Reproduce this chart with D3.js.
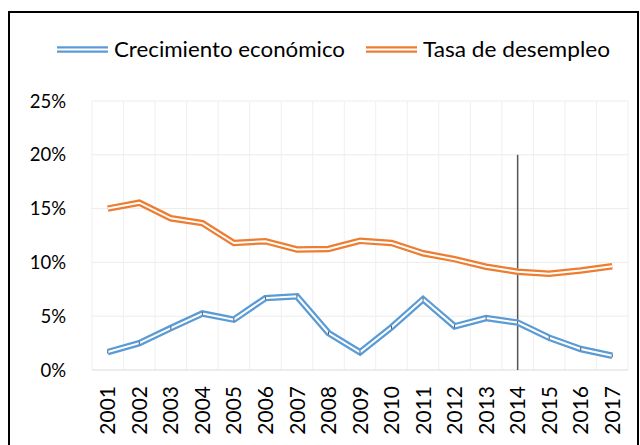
<!DOCTYPE html>
<html>
<head>
<meta charset="utf-8">
<script src="https://cdn.jsdelivr.net/npm/d3@7"></script>
<style>
  body { margin: 0; background: #fff; }
  text { font-family: Lato, "Open Sans", sans-serif; fill: #000; }
</style>
</head>
<body>
<div id="chart"></div>
<script>
// Data
const years = ["2001", "2002", "2003", "2004", "2005", "2006", "2007", "2008", "2009",
               "2010", "2011", "2012", "2013", "2014", "2015", "2016", "2017"];
const crecimiento = [1.67, 2.5, 3.9, 5.25, 4.68, 6.68, 6.85, 3.44, 1.64,
                     3.97, 6.58, 4.06, 4.83, 4.41, 3.0, 1.95, 1.32];
const desempleo = [15.0, 15.55, 14.1, 13.65, 11.8, 11.97, 11.2, 11.25, 12.0,
                   11.8, 10.85, 10.3, 9.6, 9.14, 8.94, 9.25, 9.65];
const yTicks = [0, 5, 10, 15, 20, 25];
const markerYear = "2014";
const markerTop = 20;

const series = [
    { name: "Crecimiento económico", values: crecimiento, color: "#5B9BD5" },
    { name: "Tasa de desempleo", values: desempleo, color: "#ED7D31" }
];

const width = 640, height = 445;
const margin = { top: 101, right: 12, bottom: 75, left: 92 };

const svg = d3.select("#chart").append("svg")
    .attr("width", width)
    .attr("height", height);

// outer frame
svg.append("rect")
    .attr("x", 9).attr("y", 12)
    .attr("width", 629).attr("height", 445)
    .attr("fill", "none")
    .attr("stroke", "#000")
    .attr("stroke-width", 2);

const x = d3.scaleBand()
    .domain(years)
    .range([margin.left, width - margin.right]);

const y = d3.scaleLinear()
    .domain([0, 25])
    .range([height - margin.bottom, margin.top]);

const cx = d => x(d) + x.bandwidth() / 2;

// Gridlines
const grid = svg.append("g");
grid.selectAll("line.h")
    .data(yTicks.slice(1))
    .join("line")
    .attr("x1", margin.left).attr("x2", width - margin.right)
    .attr("y1", d => y(d)).attr("y2", d => y(d))
    .attr("stroke", "#ececec").attr("stroke-width", 1);

const boundaries = years.map(d => x(d)).concat([x(years[years.length - 1]) + x.bandwidth()]);
grid.selectAll("line.v")
    .data(boundaries)
    .join("line")
    .attr("x1", d => d).attr("x2", d => d)
    .attr("y1", y(25)).attr("y2", y(0))
    .attr("stroke", "#efefef").attr("stroke-width", 1);

// baseline
svg.append("line")
    .attr("x1", margin.left).attr("x2", width - margin.right)
    .attr("y1", y(0)).attr("y2", y(0))
    .attr("stroke", "#d9d9d9").attr("stroke-width", 1);

// Y axis labels
svg.append("g")
    .selectAll("text")
    .data(yTicks)
    .join("text")
    .attr("x", 66)
    .attr("y", d => y(d))
    .attr("dy", "0.36em")
    .attr("text-anchor", "end")
    .attr("font-size", 18.5)
    .text(d => d + "%");

// X axis labels (rotated)
svg.append("g")
    .selectAll("text")
    .data(years)
    .join("text")
    .attr("transform", d => `translate(${cx(d)},${y(0) + 16}) rotate(-90)`)
    .attr("text-anchor", "end")
    .attr("dy", "0.36em")
    .attr("font-family", "'Liberation Sans', Arial, sans-serif")
    .attr("font-size", 21)
    .text(d => d);

// vertical marker at 2014
svg.append("line")
    .attr("x1", cx(markerYear)).attr("x2", cx(markerYear))
    .attr("y1", y(markerTop)).attr("y2", y(0))
    .attr("stroke", "#555").attr("stroke-width", 1.5);

// Double lines
const line = d3.line()
    .x((d, i) => cx(years[i]))
    .y(d => y(d));

series.forEach(s => {
    const g = svg.append("g");
    g.append("path")
        .datum(s.values)
        .attr("d", line)
        .attr("fill", "none")
        .attr("stroke", s.color)
        .attr("stroke-width", 6.5)
        .attr("stroke-linejoin", "miter");
    g.append("path")
        .datum(s.values)
        .attr("d", line)
        .attr("fill", "none")
        .attr("stroke", "#fff")
        .attr("stroke-width", 2)
        .attr("stroke-linejoin", "miter");
    // small point ticks inside the gap
    if (s === series[0]) {
        g.selectAll("line")
            .data(s.values)
            .join("line")
            .attr("x1", (d, i) => cx(years[i])).attr("x2", (d, i) => cx(years[i]))
            .attr("y1", d => y(d) - 1.5).attr("y2", d => y(d) + 1.5)
            .attr("stroke", "#555").attr("stroke-width", 1);
    }
});

// Legend
const legendItems = [
    { s: series[0], x0: 57, tx: 114, len: 231 },
    { s: series[1], x0: 366, tx: 423, len: 187 }
];
const legend = svg.append("g");
legendItems.forEach(it => {
    legend.append("line")
        .attr("x1", it.x0).attr("x2", it.x0 + 51)
        .attr("y1", 49.5).attr("y2", 49.5)
        .attr("stroke", it.s.color).attr("stroke-width", 6.5);
    legend.append("line")
        .attr("x1", it.x0).attr("x2", it.x0 + 51)
        .attr("y1", 49.5).attr("y2", 49.5)
        .attr("stroke", "#fff").attr("stroke-width", 2);
    legend.append("text")
        .attr("x", it.tx).attr("y", 49)
        .attr("dy", "0.36em")
        .attr("font-size", 22)
        .attr("textLength", it.len)
        .attr("lengthAdjust", "spacingAndGlyphs")
        .text(it.s.name);
});
</script>
</body>
</html>
